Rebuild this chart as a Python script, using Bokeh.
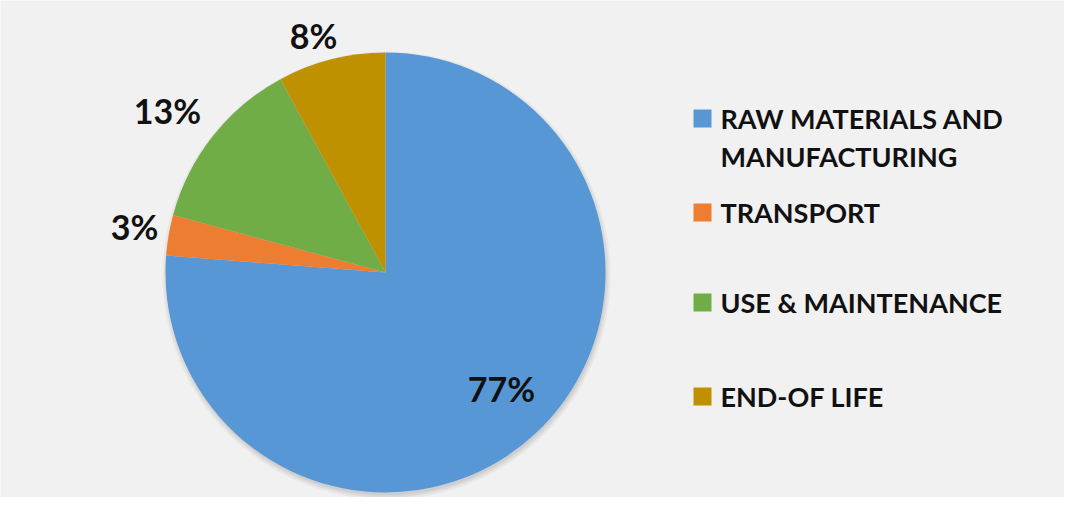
import math
from bokeh.plotting import figure
from bokeh.models import Range1d, ColumnDataSource
from bokeh.core.properties import value
from bokeh.embed import file_html
from bokeh.resources import INLINE

# ---- data ----
categories = ["RAW MATERIALS AND\nMANUFACTURING", "TRANSPORT", "USE & MAINTENANCE", "END-OF LIFE"]
shares = [77, 3, 13, 8]
pct_labels = ["77%", "3%", "13%", "8%"]
colors = ["#5797d5", "#ed7d31", "#70ad47", "#bf9000"]

# ---- layout (screenshot pixels) ----
W, H = 1064, 497
def dx(px): return px
def dy(py): return H - py

cx, cy, R = dx(385), dy(272), 220
label_pos = [(501, 388), (134, 226), (167, 110), (313, 35)]
legend_y = [118, 212, 302, 396]
font = value("Lato")

p = figure(width=W, height=H, output_backend="svg", toolbar_location=None,
           x_range=Range1d(0, W), y_range=Range1d(0, H),
           background_fill_color="#f1f1f1", border_fill_color="#f1f1f1",
           min_border=0, outline_line_color=None)
p.axis.visible = False
p.grid.visible = False

# soft shadow
for i, a in enumerate([0.04, 0.05, 0.06]):
    p.circle(x=cx + 1, y=cy - 3, radius=R + 4 - 2 * i, fill_color="black",
             fill_alpha=a, line_color=None)

total = sum(shares)
starts, ends = [], []
cum = 0
for s in shares:
    starts.append(math.pi / 2 - 2 * math.pi * cum / total)
    cum += s
    ends.append(math.pi / 2 - 2 * math.pi * cum / total)

src = ColumnDataSource(dict(start=starts, end=ends, color=colors))
p.wedge(x=cx, y=cy, radius=R, start_angle="start", end_angle="end",
        direction="clock", fill_color="color", line_color=None, source=src)

lsrc = ColumnDataSource(dict(x=[dx(a) for a, b in label_pos], y=[dy(b) for a, b in label_pos],
                             t=pct_labels))
p.text(x="x", y="y", text="t", source=lsrc, text_align="center", text_baseline="middle",
       text_font=font, text_font_style="bold", text_font_size="34px", text_color="#111111")

# legend
sq = 18
for cat, col, ly in zip(categories, colors, legend_y):
    p.rect(x=dx(702), y=dy(ly), width=sq, height=sq, fill_color=col, line_color=None)
    lines = cat.split("\n")
    for j, ln in enumerate(lines):
        p.text(x=[dx(720)], y=[dy(ly + j * 38)], text=[ln], text_align="left",
               text_baseline="middle", text_font=font, text_font_style="bold",
               text_font_size="27px", text_color="#111111")

open("out.html", "w").write(file_html(p, INLINE))
